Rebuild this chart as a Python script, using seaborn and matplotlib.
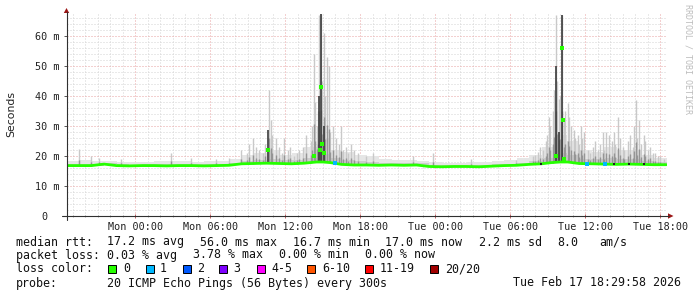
import numpy as np
import pandas as pd
import matplotlib
matplotlib.use("Agg")
import matplotlib.pyplot as plt
import seaborn as sns
from matplotlib.patches import Rectangle, Polygon
from matplotlib.lines import Line2D

# ---------------- data (hours relative to Mon 00:00, values in ms) ----------------
median_points = [
    (-5.5, 16.8), (-4.5, 16.8), (-3.5, 16.8), (-2.5, 17.3), (-1.5, 16.8), (-0.5, 16.7),
    (0.5, 16.8), (1.5, 16.8), (2.5, 16.7), (3.5, 16.8), (4.5, 16.8), (5.5, 16.7),
    (6.5, 16.8), (7.5, 16.9), (8.5, 17.4), (9.5, 17.5), (10.5, 17.6), (11.5, 17.5),
    (12.5, 17.4), (13.5, 17.6), (14.0, 17.8), (14.5, 18.0), (15.0, 18.0), (15.6, 17.8),
    (16.5, 17.2), (17.5, 17.0), (18.5, 17.0), (19.5, 16.9), (20.5, 17.0), (21.5, 16.9),
    (22.5, 17.0), (23.5, 16.5), (24.5, 16.4), (25.5, 16.5), (26.5, 16.5), (27.5, 16.4),
    (28.5, 16.6), (29.5, 16.8), (30.5, 16.9), (31.5, 17.2), (32.5, 17.4), (33.3, 17.8),
    (34.0, 18.0), (34.6, 18.0), (35.5, 17.5), (36.5, 17.4), (37.5, 17.3), (38.5, 17.2),
    (39.5, 17.3), (40.5, 17.2), (41.5, 17.1), (42.5, 17.1),
]

# isolated high median samples (time, ms)
median_spikes = [(10.6, 22.0), (14.26, 20.0), (14.74, 22.0), (14.82, 43.0), (14.9, 24.0),
                 (15.06, 21.0), (33.62, 20.0), (34.1, 56.0), (34.18, 32.0), (34.3, 19.0)]

# hourly light smoke band top (bins starting at -5.5, one hour wide)
smoke_band = [18.5, 18.8, 18.5, 18.3, 18.0, 18.0, 18.0, 18.2, 18.5, 18.2, 18.0, 18.3,
              18.5, 19.0, 20.5, 21.0, 22.0, 20.5, 21.0, 23.0, 26.0, 22.0, 21.5, 20.5,
              20.0, 19.0, 18.8, 18.8, 18.5, 18.0, 17.8, 17.8, 17.9, 18.0, 18.3, 18.8,
              19.5, 20.5, 23.0, 27.0, 25.0, 22.0, 21.5, 23.0, 22.0, 22.0, 20.5, 19.5]

# individual smoke strands (time, top)
smoke_spikes = [
    (-4.54, 22.5), (-3.58, 20.0), (-2.94, 19.5), (-1.18, 19.0), (2.82, 21.0), (4.42, 19.5),
    (6.42, 19.0), (7.46, 19.5), (8.42, 22.0), (8.9, 21.0), (9.1, 24.0), (9.38, 26.0),
    (9.62, 23.0), (9.9, 22.0), (10.18, 21.0), (10.4, 24.0), (10.66, 42.0), (10.82, 32.0),
    (10.95, 27.0), (11.22, 26.0), (11.46, 23.0), (11.7, 21.0), (11.86, 26.0), (12.18, 22.0),
    (12.4, 23.0), (12.66, 20.0), (12.9, 21.0), (13.1, 22.0), (13.38, 23.0), (13.62, 27.0),
    (14.02, 25.0), (14.12, 30.0), (14.26, 54.0), (14.35, 38.0), (14.5, 30.0), (14.58, 35.0),
    (14.66, 67.0), (14.82, 67.5), (14.95, 45.0), (15.06, 61.0), (15.15, 40.0), (15.3, 53.0),
    (15.46, 50.0), (15.6, 28.0), (15.78, 30.0), (16.02, 26.0), (16.26, 24.0), (16.42, 30.0),
    (16.6, 22.0), (16.82, 23.0), (17.0, 21.0), (17.22, 24.0), (17.5, 22.0), (17.78, 21.0),
    (18.42, 20.0), (18.98, 21.0), (22.18, 20.0), (23.78, 21.0), (26.82, 19.0), (30.42, 18.7),
    (31.78, 20.0), (32.0, 20.5), (32.18, 21.5), (32.4, 23.0), (32.58, 22.0), (32.82, 25.0),
    (32.95, 27.0), (33.06, 33.0), (33.2, 30.0), (33.38, 35.0), (33.5, 42.0), (33.62, 67.0),
    (33.74, 45.0), (33.86, 39.0), (34.0, 40.0), (34.1, 67.0), (34.26, 32.0), (34.4, 35.0),
    (34.58, 37.6), (34.7, 33.0), (34.82, 30.0), (35.06, 28.7), (35.2, 26.0), (35.38, 27.0),
    (35.5, 24.0), (35.62, 30.0), (35.75, 26.0), (35.86, 28.0), (36.18, 22.0), (36.4, 21.0),
    (36.58, 23.0), (36.8, 25.0), (36.98, 22.0), (37.2, 24.0), (37.38, 28.0), (37.5, 22.0),
    (37.62, 28.0), (37.86, 27.0), (38.1, 25.0), (38.26, 28.0), (38.4, 24.0), (38.58, 33.0),
    (38.8, 26.0), (38.98, 23.0), (39.1, 22.0), (39.38, 25.0), (39.6, 27.0), (39.78, 23.0),
    (39.9, 30.0), (40.02, 38.7), (40.15, 26.0), (40.26, 32.0), (40.45, 24.0), (40.66, 27.0),
    (40.8, 25.0), (40.98, 22.0), (41.2, 23.0), (41.38, 21.0), (41.6, 21.0), (41.78, 20.0),
    (42.0, 20.0), (42.26, 19.0),
]

# dark smoke cores (time, top)
dark_cores = [(10.6, 28.7), (14.66, 40.0), (14.82, 67.5), (15.06, 30.0),
              (33.62, 50.0), (33.86, 28.0), (34.1, 67.0)]

loss1_times = [16.0, 36.1, 37.54]
dark_marks = [32.42, 38.26, 39.46, 40.66]

x_tick_hours = [0, 6, 12, 18, 24, 30, 36, 42]
x_tick_labels = ["Mon 00:00", "Mon 06:00", "Mon 12:00", "Mon 18:00",
                 "Tue 00:00", "Tue 06:00", "Tue 12:00", "Tue 18:00"]
y_ticks = [0, 10, 20, 30, 40, 50, 60]
y_tick_labels = ["0  ", "10 m", "20 m", "30 m", "40 m", "50 m", "60 m"]

loss_labels = ["0", "1", "2", "3", "4-5", "6-10", "11-19", "20/20"]
loss_colors = ["#26ff00", "#00b8ff", "#0059ff", "#7e00ff", "#ff00ff", "#ff5500", "#ff0000", "#a10000"]

# ---------------- figure ----------------
W, H, DPI = 697, 297, 100
sns.set_theme(style="white")
plt.rcParams["font.family"] = ["DejaVu Sans Mono", "DejaVu Sans"]

fig = plt.figure(figsize=(W / DPI, H / DPI), dpi=DPI)
fig.patch.set_facecolor("white")

def fx(px):
    return px / W

def fy(py):
    return 1 - py / H

ax = fig.add_axes([fx(66.5), fy(216), 600 / W, 203 / H])
ax.set_facecolor("white")
ax.set_xlim(-5.5, 42.5)
ax.set_ylim(0, 203 / 3.0)

# grid
ax.set_axisbelow(True)
ax.set_xticks(x_tick_hours)
ax.set_xticks(np.arange(-5, 43, 1), minor=True)
ax.set_yticks(y_ticks)
ax.set_yticks(np.arange(0, 68, 2), minor=True)
ax.grid(which="minor", color="#d4d4d4", lw=0.72, ls=(0, (1, 2)), zorder=0)
ax.grid(which="major", color="#e8a2a2", lw=0.72, ls=(0, (1, 2)), zorder=0)

med_df = pd.DataFrame(median_points, columns=["t", "ms"])
med_t = med_df["t"].to_numpy()
med_v = med_df["ms"].to_numpy()

# smoke band
edges = np.arange(-5.5, 42.51, 1.0)
band = np.array(smoke_band + [smoke_band[-1]])
lower = np.interp(edges, med_t, med_v)
ax.fill_between(edges, lower, band, step="post", color="#e6e6e6", lw=0, zorder=1)
ax.fill_between(edges, lower, lower + (band - lower) * 0.35, step="post",
                color="#cdcdcd", lw=0, zorder=1)

# smoke strands
sp = np.array(smoke_spikes)
base = np.interp(sp[:, 0], med_t, med_v)
ax.vlines(sp[:, 0], base, sp[:, 1], color="#c9c9c9", lw=1.0, zorder=2)
ax.vlines(sp[:, 0], base, base + (sp[:, 1] - base) * 0.35, color="#959595", lw=1.0, zorder=2)
dc = np.array(dark_cores)
dbase = np.interp(dc[:, 0], med_t, med_v)
ax.vlines(dc[:, 0], dbase, dc[:, 1], color="#3a3a3a", lw=1.2, zorder=3)

# median line
sns.lineplot(data=med_df, x="t", y="ms", ax=ax, color=loss_colors[0], lw=2.0,
             estimator=None, sort=True, zorder=4)
ms_arr = np.array(median_spikes)
ax.plot(ms_arr[:, 0], ms_arr[:, 1], ls="none", marker="s", ms=2.2, mew=0,
        color=loss_colors[0], zorder=5)
ax.plot(loss1_times, np.interp(loss1_times, med_t, med_v), ls="none", marker="s",
        ms=2.2, mew=0, color=loss_colors[1], zorder=5)
ax.plot(dark_marks, np.interp(dark_marks, med_t, med_v), ls="none", marker="s",
        ms=1.5, mew=0, color="#202020", zorder=5)

# axes / ticks
for s in ax.spines.values():
    s.set_visible(False)
ax.set_xlabel("")
ax.set_ylabel("")
ax.set_xticklabels(x_tick_labels)
ax.set_yticklabels(y_tick_labels)
ax.tick_params(axis="x", which="major", direction="inout", length=3, width=0.7,
               color="#c06060", pad=2.5, labelsize=7.3, labelcolor="#222222")
ax.tick_params(axis="x", which="minor", direction="inout", length=2, width=0.7,
               color="#aaaaaa")
ax.tick_params(axis="y", which="major", direction="out", length=2, width=0.7,
               color="#555555", pad=2.7, labelsize=7.3, labelcolor="#222222")
ax.tick_params(axis="y", which="minor", length=0)
ax.tick_params(bottom=True, left=True, which="both")
for lab in ax.get_yticklabels():
    lab.set_horizontalalignment("right")

# axis lines and arrows
axc = "#303030"
fig.add_artist(Line2D([fx(62), fx(669)], [fy(216), fy(216)], transform=fig.transFigure,
                      color=axc, lw=0.8))
fig.add_artist(Line2D([fx(66.5), fx(66.5)], [fy(220), fy(12)], transform=fig.transFigure,
                      color=axc, lw=0.8))
arrow_c = "#9b1515"
fig.add_artist(Polygon([[fx(63.8), fy(13)], [fx(69.2), fy(13)], [fx(66.5), fy(8)]],
                       closed=True, transform=fig.transFigure, color=arrow_c, lw=0))
fig.add_artist(Polygon([[fx(668), fy(213.3)], [fx(668), fy(218.7)], [fx(673.5), fy(216)]],
                       closed=True, transform=fig.transFigure, color=arrow_c, lw=0))

# side texts
fig.text(fx(11), fy(114), "Seconds", rotation=90, ha="center", va="center",
         fontsize=7.8, family=["DejaVu Sans"], color="#222222")
fig.text(fx(688), fy(59), "RRDTOOL / TOBI OETIKER", rotation=270, ha="center",
         va="center", fontsize=6.0, color="#bdbdbd")

# legend text
LFS = 8.4
tc = "#111111"
legend_rows = [
    (242, [(16, "median rtt:"), (107, "17.2 ms avg"), (200, "56.0 ms max"),
           (293, "16.7 ms min"), (385, "17.0 ms now"), (479, "2.2 ms sd"),
           (557, "8.0"), (599, "am/s")]),
    (255, [(16, "packet loss:"), (107, "0.03 % avg"), (193, "3.78 % max"),
           (279, "0.00 % min"), (365, "0.00 % now")]),
    (269, [(16, "loss color:")]),
    (283, [(16, "probe:"), (107, "20 ICMP Echo Pings (56 Bytes) every 300s"),
           (513, "Tue Feb 17 18:29:58 2026")]),
]
for yy, segs in legend_rows:
    for xx, txt in segs:
        fig.text(fx(xx), fy(yy), txt, ha="left", va="center", fontsize=LFS, color=tc)

box_x = [108, 146, 183, 219, 257, 307, 365, 430]
label_x = [123, 160, 197, 233, 271, 322, 380, 445]
for bx, lx, lab, col in zip(box_x, label_x, loss_labels, loss_colors):
    fig.add_artist(Rectangle((fx(bx), fy(273)), 8 / W, 8 / H, transform=fig.transFigure,
                             facecolor=col, edgecolor="#000000", lw=0.7))
    fig.text(fx(lx), fy(269), lab, ha="left", va="center", fontsize=LFS, color=tc)

fig.savefig("out.png", dpi=DPI, facecolor="white")
